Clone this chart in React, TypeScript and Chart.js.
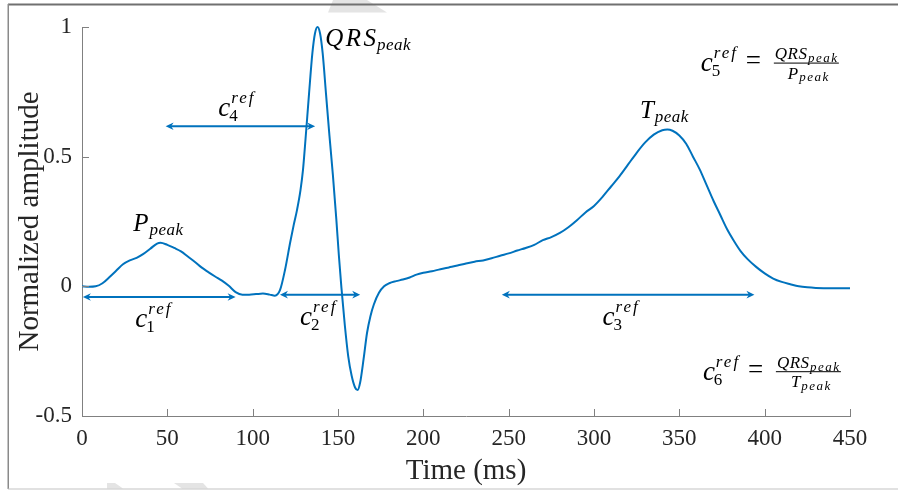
import React, { useEffect, useRef } from "react";
import { Chart, registerables } from "chart.js";

Chart.register(...registerables);

// ---- data ----
const timeMs = [
  0, 4, 8, 12, 16, 20, 24, 28, 32, 36, 40, 44, 46, 50, 54, 58, 62, 66, 70, 74, 78, 82, 86, 90, 94, 98,
  102, 106, 110, 113, 116, 119, 122, 124, 126, 128, 129.5, 131, 133, 135, 136.5, 138, 139.5, 141, 143,
  145, 147, 149, 150.5, 152, 154, 156, 158, 160, 161.5, 163, 165, 167, 169, 171, 174, 177, 180, 184,
  188, 192, 196, 200, 205, 210, 215, 220, 225, 230, 235, 240, 245, 250, 255, 260, 265, 270, 275, 280,
  285, 290, 295, 300, 305, 310, 315, 320, 325, 330, 335, 340, 343, 346, 350, 354, 358, 362, 366, 370,
  374, 378, 382, 386, 390, 395, 400, 405, 410, 415, 420, 425, 430, 440, 450,
];
const amplitude = [
  0.0, -0.002, 0.0, 0.012, 0.035, 0.06, 0.085, 0.1, 0.11, 0.125, 0.145, 0.165, 0.168, 0.16, 0.148,
  0.135, 0.115, 0.095, 0.073, 0.055, 0.038, 0.022, 0.002, -0.022, -0.032, -0.032, -0.03, -0.028, -0.032,
  -0.036, -0.015, 0.065, 0.17, 0.235, 0.295, 0.37, 0.45, 0.57, 0.74, 0.9, 0.975, 1.0, 0.975, 0.9, 0.74,
  0.58, 0.43, 0.26, 0.12, -0.005, -0.15, -0.27, -0.345, -0.39, -0.4, -0.37, -0.28, -0.18, -0.115,
  -0.07, -0.025, 0.0, 0.012, 0.02, 0.026, 0.034, 0.045, 0.052, 0.058, 0.066, 0.073, 0.08, 0.088,
  0.095, 0.1, 0.108, 0.118, 0.127, 0.138, 0.148, 0.16, 0.178, 0.19, 0.206, 0.228, 0.255, 0.285, 0.31,
  0.345, 0.385, 0.425, 0.47, 0.515, 0.555, 0.585, 0.602, 0.605, 0.6, 0.582, 0.55, 0.5, 0.45, 0.39,
  0.33, 0.275, 0.22, 0.175, 0.135, 0.105, 0.075, 0.05, 0.03, 0.017, 0.008, 0.0, -0.004, -0.006,
  -0.007, -0.007,
];
const xTicks = [0, 50, 100, 150, 200, 250, 300, 350, 400, 450];
const yTicks = [-0.5, 0, 0.5, 1];

// double arrows: c1, c2, c3, c4 (ms from, ms to, amplitude level)
const arrowFrom = [0.5, 116, 246, 49];
const arrowTo = [90, 163, 394, 136.6];
const arrowLevel = [-0.041, -0.032, -0.032, 0.617];
const arrowIndex = ["1", "2", "3", "4"];
// anchor (ms, amplitude) of each c-label
const cLabelT = [31.2, 127.8, 305, 79.8];
const cLabelV = [-0.156, -0.148, -0.148, 0.655];

const peakNames = ["P", "QRS", "T"];
const peakLabelT = [30, 142.5, 326.9];
const peakLabelV = [0.215, 0.927, 0.65];

const ratioIndex = ["5", "6"];
const ratioDenom = ["P", "T"];
const ratioT = [362.6, 363.8];
const ratioV = [0.83, -0.36];

const BLUE = "#0072BD";
const SERIF = '"Liberation Serif", "DejaVu Serif", serif';

function setFont(ctx: CanvasRenderingContext2D, size: number, italic: boolean, spacing = 0) {
  ctx.font = `${italic ? "italic " : ""}${size}px ${SERIF}`;
  (ctx as any).letterSpacing = `${spacing}px`;
}

function drawText(ctx: CanvasRenderingContext2D, text: string, x: number, y: number, size: number, italic: boolean, spacing = 0) {
  setFont(ctx, size, italic, spacing);
  ctx.fillText(text, x, y);
  return ctx.measureText(text).width;
}

function drawC(ctx: CanvasRenderingContext2D, x: number, y: number, idx: string) {
  const w = drawText(ctx, "c", x, y, 27, true);
  drawText(ctx, "ref", x + w + 1, y - 13, 17, true, 2);
  drawText(ctx, idx, x + w - 1, y + 5, 17, false);
}

function drawPeak(ctx: CanvasRenderingContext2D, x: number, y: number, name: string, big: number, sub: number, spacing: number, subSpacing: number) {
  const w = drawText(ctx, name, x, y, big, true, spacing);
  drawText(ctx, "peak", x + w - spacing + 1, y + big * 0.17, sub, true, subSpacing);
  setFont(ctx, sub, true, subSpacing);
  return w + ctx.measureText("peak").width;
}

function arrowHead(ctx: CanvasRenderingContext2D, tipX: number, y: number, dir: number) {
  const L = 8, H = 3.8, N = 5.5;
  ctx.beginPath();
  ctx.moveTo(tipX, y);
  ctx.lineTo(tipX - dir * L, y - H);
  ctx.lineTo(tipX - dir * N, y);
  ctx.lineTo(tipX - dir * L, y + H);
  ctx.closePath();
  ctx.fill();
}

const decorPlugin = {
  id: "decor",
  beforeDraw(chart: any) {
    const ctx: CanvasRenderingContext2D = chart.ctx;
    ctx.save();
    ctx.fillStyle = "#ffffff";
    ctx.fillRect(0, 0, chart.width, chart.height);
    // faint watermark pieces
    ctx.fillStyle = "#e4e4e4";
    const polys = [
      [[333, 0], [367, 0], [387, 12.5], [328, 12.5]],
      [[107, 483], [115, 483], [123, 488.5], [107, 488.5]],
      [[174, 483], [203, 483], [208, 488.5], [182, 488.5]],
    ];
    for (const p of polys) {
      ctx.beginPath();
      p.forEach(([px, py], i) => (i ? ctx.lineTo(px, py) : ctx.moveTo(px, py)));
      ctx.closePath();
      ctx.fill();
    }
    ctx.restore();
  },
  afterDraw(chart: any) {
    const ctx: CanvasRenderingContext2D = chart.ctx;
    const xs = chart.scales.x;
    const ys = chart.scales.y;
    const area = chart.chartArea;
    ctx.save();
    // inward tick marks
    ctx.strokeStyle = "#808080";
    ctx.lineWidth = 1;
    ctx.beginPath();
    for (const v of xTicks) {
      const px = Math.round(xs.getPixelForValue(v)) + 0.5;
      ctx.moveTo(px, area.bottom);
      ctx.lineTo(px, area.bottom - 7);
    }
    for (const v of yTicks) {
      const py = Math.round(ys.getPixelForValue(v)) + 0.5;
      ctx.moveTo(area.left, py);
      ctx.lineTo(area.left + 7, py);
    }
    ctx.stroke();

    // arrows
    ctx.strokeStyle = BLUE;
    ctx.fillStyle = BLUE;
    ctx.lineWidth = 2;
    for (let i = 0; i < arrowFrom.length; i++) {
      const x1 = xs.getPixelForValue(arrowFrom[i]);
      const x2 = xs.getPixelForValue(arrowTo[i]);
      const y = ys.getPixelForValue(arrowLevel[i]);
      ctx.beginPath();
      ctx.moveTo(x1 + 5, y);
      ctx.lineTo(x2 - 5, y);
      ctx.stroke();
      arrowHead(ctx, x1, y, -1);
      arrowHead(ctx, x2, y, 1);
    }

    // labels
    ctx.fillStyle = "#000000";
    ctx.textBaseline = "alphabetic";
    ctx.textAlign = "left";
    for (let i = 0; i < cLabelT.length; i++) {
      drawC(ctx, xs.getPixelForValue(cLabelT[i]), ys.getPixelForValue(cLabelV[i]), arrowIndex[i]);
    }
    for (let i = 0; i < peakNames.length; i++) {
      const sp = peakNames[i] === "QRS" ? 2.5 : 0;
      drawPeak(ctx, xs.getPixelForValue(peakLabelT[i]), ys.getPixelForValue(peakLabelV[i]), peakNames[i], 25, 17, sp, 0.5);
    }
    for (let i = 0; i < ratioIndex.length; i++) {
      const x0 = xs.getPixelForValue(ratioT[i]);
      const y0 = ys.getPixelForValue(ratioV[i]);
      drawC(ctx, x0, y0, ratioIndex[i]);
      setFont(ctx, 27, false);
      ctx.textBaseline = "middle";
      ctx.fillText("=", x0 + 45, y0 - 9);
      ctx.textBaseline = "alphabetic";
      const barY = y0 - 8;
      ctx.fillRect(x0 + 73, barY - 0.5, 65, 1);
      // numerator
      drawPeak(ctx, x0 + 74, barY - 4, "QRS", 17, 13, 0.5, 1.5);
      // denominator
      const dx = ratioDenom[i] === "P" ? 87 : 88;
      drawPeak(ctx, x0 + dx, barY + 15.5, ratioDenom[i], 17, 13, 0, 1.5);
    }

    // frame
    ctx.fillStyle = "#707070";
    ctx.fillRect(8, 3.5, chart.width - 8, 2);
    ctx.fillStyle = "#8a8a8a";
    ctx.fillRect(7.5, 4, 1.5, 485);
    ctx.fillStyle = "#c4c4c4";
    ctx.fillRect(8, 488.5, chart.width - 8, 1);
    ctx.restore();
  },
};

export default function App() {
  const ref = useRef<HTMLCanvasElement>(null);
  useEffect(() => {
    const canvas = ref.current;
    if (!canvas) return;
    const chart = new Chart(canvas, {
      type: "line",
      data: {
        datasets: [
          {
            data: timeMs.map((t, i) => ({ x: t, y: amplitude[i] })),
            borderColor: BLUE,
            borderWidth: 2,
            pointRadius: 0,
            cubicInterpolationMode: "monotone",
            fill: false,
            clip: false as any,
          },
        ],
      },
      options: {
        animation: false,
        responsive: false,
        devicePixelRatio: 1,
        layout: { padding: { left: 0, right: 48, top: 27, bottom: 0 } },
        plugins: { legend: { display: false }, tooltip: { enabled: false } },
        scales: {
          x: {
            type: "linear",
            min: 0,
            max: 450,
            afterBuildTicks: (s: any) => {
              s.ticks = xTicks.map((v) => ({ value: v }));
            },
            grid: { display: false, drawTicks: false },
            border: { display: true, color: "#808080", width: 1 },
            ticks: {
              color: "#262626",
              font: { family: SERIF, size: 23 },
              padding: 9,
              maxRotation: 0,
              autoSkip: false,
              callback: (v: any) => String(v),
            },
            title: {
              display: true,
              text: "Time (ms)",
              color: "#262626",
              font: { family: SERIF, size: 29 },
              padding: { top: 0, bottom: 2 },
            },
            afterFit: (s: any) => {
              s.height = 75;
            },
          },
          y: {
            type: "linear",
            min: -0.5,
            max: 1,
            afterBuildTicks: (s: any) => {
              s.ticks = yTicks.map((v) => ({ value: v }));
            },
            grid: { display: false, drawTicks: false },
            border: { display: true, color: "#808080", width: 1 },
            ticks: {
              color: "#262626",
              font: { family: SERIF, size: 23 },
              padding: 10,
              callback: (v: any) => String(v),
            },
            title: {
              display: true,
              text: "Normalized amplitude",
              color: "#262626",
              font: { family: SERIF, size: 29 },
              padding: { top: 13, bottom: 0 },
            },
            afterFit: (s: any) => {
              s.width = 82;
            },
          },
        },
      },
      plugins: [decorPlugin],
    });
    return () => chart.destroy();
  }, []);
  return (
    <div style={{ position: "absolute", left: 0, top: 0, width: 898, height: 491, background: "#fff" }}>
      <canvas ref={ref} width={898} height={491} style={{ display: "block", width: 898, height: 491 }} />
    </div>
  );
}
